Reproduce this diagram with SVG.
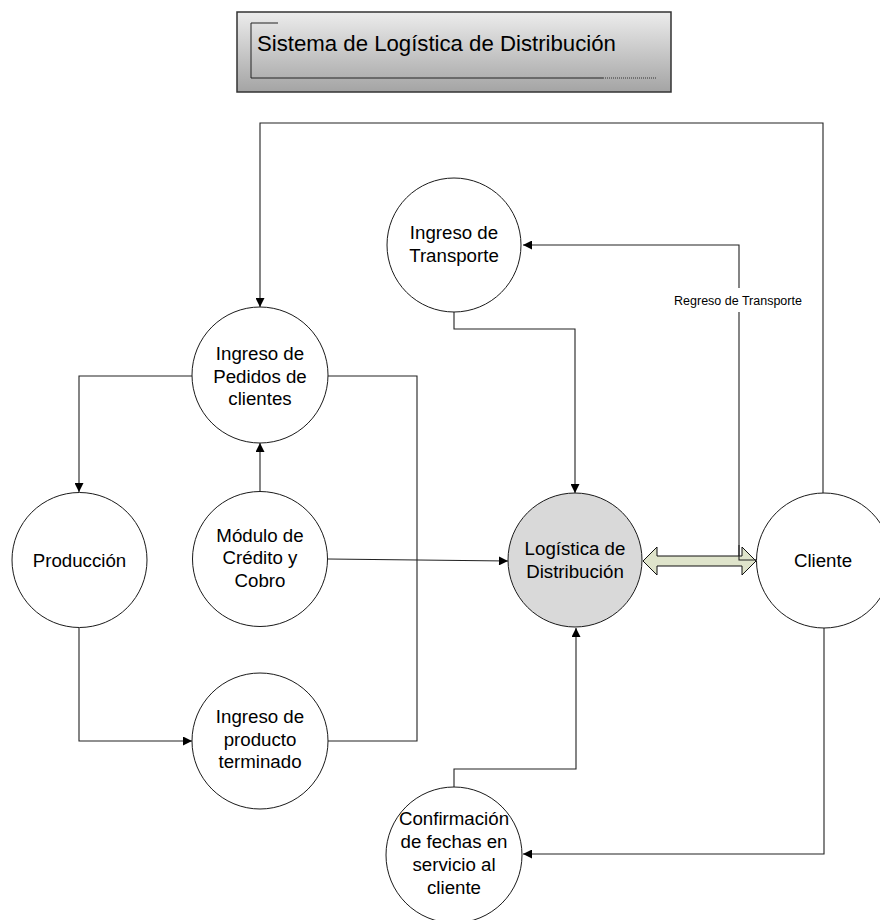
<svg xmlns="http://www.w3.org/2000/svg" width="880" height="920" viewBox="0 0 880 920">
  <defs>
    <linearGradient id="titleFill" x1="0" y1="0" x2="0" y2="1">
      <stop offset="0" stop-color="#ececec"/>
      <stop offset="1" stop-color="#a4a4a4"/>
    </linearGradient>
    <marker id="arrow" viewBox="0 0 10 10" refX="10" refY="5" markerWidth="10" markerHeight="9" orient="auto" markerUnits="userSpaceOnUse">
      <path d="M0,0 L10,5 L0,10 z" fill="#000"/>
    </marker>
    <style>
      .node { fill: #ffffff; stroke: #1a1a1a; stroke-width: 1; }
      .hub { fill: #d9d9d9; stroke: #1a1a1a; stroke-width: 1; }
      .lbl { font-family: "Liberation Sans", Arial, sans-serif; font-size: 18.7px; fill: #000; text-anchor: middle; }
      .wire { fill: none; stroke: #222; stroke-width: 1.1; }
      .small { font-family: "Liberation Sans", Arial, sans-serif; font-size: 12.5px; fill: #000; text-anchor: middle; }
    </style>
  </defs>

  <!-- title banner -->
  <g id="title">
    <rect x="237" y="12" width="434" height="80" fill="url(#titleFill)" stroke="#333" stroke-width="1.5"/>
    <path d="M278,23 H251 V78 H603" fill="none" stroke="#222" stroke-width="1"/>
    <path d="M603,78 H657" fill="none" stroke="#333" stroke-width="1" stroke-dasharray="1,1"/>
    <text x="257" y="51" font-family="'Liberation Sans', Arial, sans-serif" font-size="22.2px" fill="#000">Sistema de Logística de Distribución</text>
  </g>

  <!-- connectors -->
  <g id="connectors">
    <path class="wire" d="M823,493 V123 H260 V307" marker-end="url(#arrow)"/>
    <path class="wire" d="M756,560 H739 V245 H523" marker-end="url(#arrow)"/>
    <path class="wire" d="M454,312 V329 H575 V493" marker-end="url(#arrow)"/>
    <path class="wire" d="M192,376 H79 V492" marker-end="url(#arrow)"/>
    <path class="wire" d="M328,376 H417 V741 H328"/>
    <path class="wire" d="M260,491 V443" marker-end="url(#arrow)"/>
    <path class="wire" d="M328,559 L508,561" marker-end="url(#arrow)"/>
    <path class="wire" d="M79,628 V741 H192" marker-end="url(#arrow)"/>
    <path class="wire" d="M454,787 V769 H576 V628" marker-end="url(#arrow)"/>
    <path class="wire" d="M824,628 V854 H523" marker-end="url(#arrow)"/>
    <rect x="672" y="288" width="134" height="24" fill="#ffffff"/>
    <text class="small" x="738" y="305">Regreso de Transporte</text>
    <!-- two-way exchange between distribution and client -->
    <polygon points="643,561 657,547 657,556 742,556 742,547 756,561 742,575 742,566 657,566 657,575" fill="#dfe4cb" stroke="#111" stroke-width="1"/>
    <path class="wire" d="M739,545 V560 H756"/>
  </g>

  <g id="ingreso-transporte">
    <circle class="node" cx="454" cy="245" r="67"/>
    <text class="lbl" x="454" y="239">Ingreso de</text>
    <text class="lbl" x="454" y="262">Transporte</text>
  </g>

  <g id="ingreso-pedidos">
    <circle class="node" cx="260" cy="375" r="68"/>
    <text class="lbl" x="260" y="360">Ingreso de</text>
    <text class="lbl" x="260" y="383">Pedidos de</text>
    <text class="lbl" x="260" y="405">clientes</text>
  </g>

  <g id="produccion">
    <circle class="node" cx="79.5" cy="560" r="67.5"/>
    <text class="lbl" x="79.5" y="567">Producción</text>
  </g>

  <g id="modulo-credito">
    <circle class="node" cx="260" cy="559" r="67.5"/>
    <text class="lbl" x="260" y="542">Módulo de</text>
    <text class="lbl" x="260" y="564">Crédito y</text>
    <text class="lbl" x="260" y="587">Cobro</text>
  </g>

  <g id="ingreso-producto">
    <circle class="node" cx="260" cy="741" r="68"/>
    <text class="lbl" x="260" y="723">Ingreso de</text>
    <text class="lbl" x="260" y="746">producto</text>
    <text class="lbl" x="260" y="768">terminado</text>
  </g>

  <g id="logistica">
    <circle class="hub" cx="575" cy="560" r="67"/>
    <text class="lbl" x="575" y="555">Logística de</text>
    <text class="lbl" x="575" y="578">Distribución</text>
  </g>

  <g id="cliente">
    <circle class="node" cx="824" cy="560.5" r="67.5"/>
    <text class="lbl" x="823" y="567">Cliente</text>
  </g>

  <g id="confirmacion">
    <circle class="node" cx="454" cy="855" r="68"/>
    <text class="lbl" x="454" y="825">Confirmación</text>
    <text class="lbl" x="454" y="848">de fechas en</text>
    <text class="lbl" x="454" y="871">servicio al</text>
    <text class="lbl" x="454" y="894">cliente</text>
  </g>
</svg>
